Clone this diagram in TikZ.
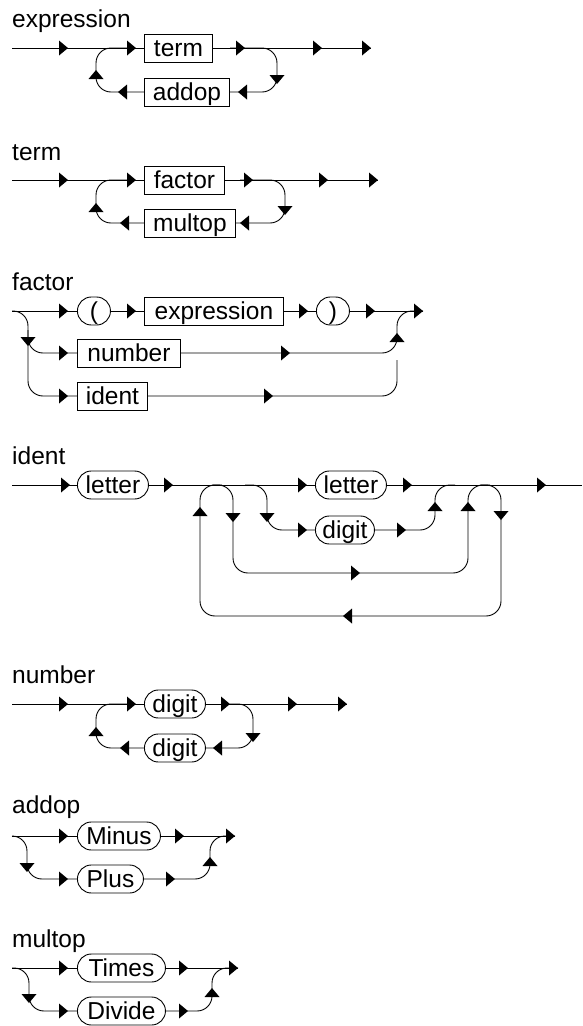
\documentclass[tikz,border=0pt]{standalone}
\usepackage{fontspec}
\setmainfont{Liberation Sans}
\newcommand\sz{\fontsize{24.5}{28}\selectfont}
\newcommand\arrR[2]{\fill (#1,#2) -- ++(-9,-7.5) -- ++(0,15) -- cycle;}
\newcommand\arrL[2]{\fill (#1,#2) -- ++(9,-7.5) -- ++(0,15) -- cycle;}
\newcommand\arrU[2]{\fill (#1,#2) -- ++(-7.5,9) -- ++(15,0) -- cycle;}
\newcommand\arrD[2]{\fill (#1,#2) -- ++(-7.5,-9) -- ++(15,0) -- cycle;}
\tikzset{
  ln/.style={line width=0.9pt, rounded corners=15pt},
  tbox/.style={draw, line width=0.9pt, rectangle, anchor=west, inner xsep=0pt, inner ysep=0pt,
    minimum height=28pt, text height=22pt, text depth=6pt, font=\sz},
  rbox/.style={tbox, rounded corners=13.9pt},
  ttl/.style={anchor=base west, inner sep=0pt, font=\sz},
}
\begin{document}
\begin{tikzpicture}[x=1pt,y=-1pt]
\useasboundingbox (0,0) rectangle (582,1026);
% ---------------- expression
\node[ttl] (t1) at (12,27) {expression};
\node[tbox, minimum width=68] (eterm) at (144,48) {term};
\node[tbox, minimum width=85] (eaddop) at (144,92) {addop};
\draw[ln] (12,48) -- (eterm.west);
\draw[ln] (eterm.east) -- (371,48);
\draw[ln] (230,48) -- (277,48) -- (277,92) -- (eaddop.east);
\draw[ln] (eaddop.west) -- (96,92) -- (96,48) -- (130,48);
\arrR{68}{48}\arrR{136}{48}\arrR{245}{48}\arrR{322}{48}\arrR{371}{48}
\arrU{96}{70}\arrD{277}{84}\arrL{238}{92}\arrL{118}{92}
% ---------------- term
\node[ttl] (t2) at (12,160) {term};
\node[tbox, minimum width=80] (tfac) at (144,180) {factor};
\node[tbox, minimum width=91] (tmul) at (144,223) {multop};
\draw[ln] (12,180) -- (tfac.west);
\draw[ln] (tfac.east) -- (378,180);
\draw[ln] (240,180) -- (285,180) -- (285,223) -- (tmul.east);
\draw[ln] (tmul.west) -- (96,223) -- (96,180) -- (130,180);
\arrR{68}{180}\arrR{136}{180}\arrR{253}{180}\arrR{328}{180}\arrR{378}{180}
\arrU{96}{203}\arrD{285}{215}\arrL{240}{223}\arrL{120}{223}
% ---------------- factor
\node[ttl] (t3) at (12,290) {factor};
\node[rbox, minimum width=33] (lp) at (77,311) {(};
\node[tbox, minimum width=139] (fexp) at (144,311) {expression};
\node[rbox, minimum width=33] (rp) at (316,311) {)};
\node[tbox, minimum width=103] (fnum) at (77,353) {number};
\node[tbox, minimum width=70] (fid) at (77,396) {ident};
\draw[ln] (12,311) -- (lp.west);
\draw[ln] (lp.east) -- (fexp.west);
\draw[ln] (fexp.east) -- (rp.west);
\draw[ln] (rp.east) -- (423,311);
\draw[ln] (12,311) -- (28,311) -- (28,396) -- (fid.west);
\draw[ln] (28,330) -- (28,353) -- (fnum.west);
\draw[ln] (fnum.east) -- (397,353) -- (397,311) -- (423,311);
\draw[ln] (fid.east) -- (397,396) -- (397,360);
\arrR{68}{311}\arrR{136}{311}\arrR{308}{311}\arrR{375}{311}\arrR{423}{311}
\arrR{68}{353}\arrR{290}{353}\arrR{68}{396}\arrR{273}{396}
\arrD{28}{346}\arrU{397}{333}
% ---------------- ident
\node[ttl] (t4) at (12,464) {ident};
\node[rbox, minimum width=71] (il1) at (77,485) {letter};
\node[rbox, minimum width=71] (il2) at (315,485) {letter};
\node[rbox, minimum width=59] (idg) at (315,530) {digit};
\draw[ln] (12,485) -- (il1.west);
\draw[ln] (il1.east) -- (il2.west);
\draw[ln] (il2.east) -- (582,485);
\draw[ln] (480,485) -- (501,485) -- (501,616) -- (200,616) -- (200,485) -- (222,485);
\draw[ln] (212,485) -- (233,485) -- (233,573) -- (468,573) -- (468,485) -- (490,485);
\draw[ln] (245,485) -- (267,485) -- (267,530) -- (idg.west);
\draw[ln] (idg.east) -- (435,530) -- (435,485) -- (455,485);
\arrR{70}{485}\arrR{173}{485}\arrR{307}{485}\arrR{412}{485}\arrR{546}{485}
\arrR{307}{530}\arrR{406}{530}
\arrU{200}{507}\arrD{233}{522}\arrD{267}{522}\arrU{435}{502}\arrU{468}{502}\arrD{501}{520}
\arrR{360}{573}\arrL{343}{616}
% ---------------- number
\node[ttl] (t5) at (12,683) {number};
\node[rbox, minimum width=61] (nd1) at (144,704) {digit};
\node[rbox, minimum width=61] (nd2) at (144,748) {digit};
\draw[ln] (12,704) -- (nd1.west);
\draw[ln] (nd1.east) -- (347,704);
\draw[ln] (230,704) -- (253,704) -- (253,748) -- (nd2.east);
\draw[ln] (nd2.west) -- (96,748) -- (96,704) -- (130,704);
\arrR{68}{704}\arrR{136}{704}\arrR{230}{704}\arrR{297}{704}\arrR{347}{704}
\arrU{96}{727}\arrD{253}{742}\arrL{213}{748}\arrL{120}{748}
% ---------------- addop
\node[ttl] (t6) at (12,813) {addop};
\node[rbox, minimum width=83] (amin) at (77,836) {Minus};
\node[rbox, minimum width=66] (aplu) at (77,879) {Plus};
\draw[ln] (12,836) -- (amin.west);
\draw[ln] (amin.east) -- (235,836);
\draw[ln] (12,836) -- (27,836) -- (27,879) -- (aplu.west);
\draw[ln] (aplu.east) -- (210,879) -- (210,836) -- (235,836);
\arrR{68}{836}\arrR{184}{836}\arrR{235}{836}\arrR{68}{879}\arrR{175}{879}
\arrD{27}{872}\arrU{210}{857}
% ---------------- multop
\node[ttl] (t7) at (12,947) {multop};
\node[rbox, minimum width=88] (mtim) at (77,968) {Times};
\node[rbox, minimum width=88] (mdiv) at (77,1011) {Divide};
\draw[ln] (12,968) -- (mtim.west);
\draw[ln] (mtim.east) -- (238,968);
\draw[ln] (12,968) -- (29,968) -- (29,1011) -- (mdiv.west);
\draw[ln] (mdiv.east) -- (212,1011) -- (212,968) -- (238,968);
\arrR{68}{968}\arrR{188}{968}\arrR{238}{968}\arrR{68}{1011}\arrR{188}{1011}
\arrD{29}{1003}\arrU{212}{988}
\end{tikzpicture}
\end{document}
